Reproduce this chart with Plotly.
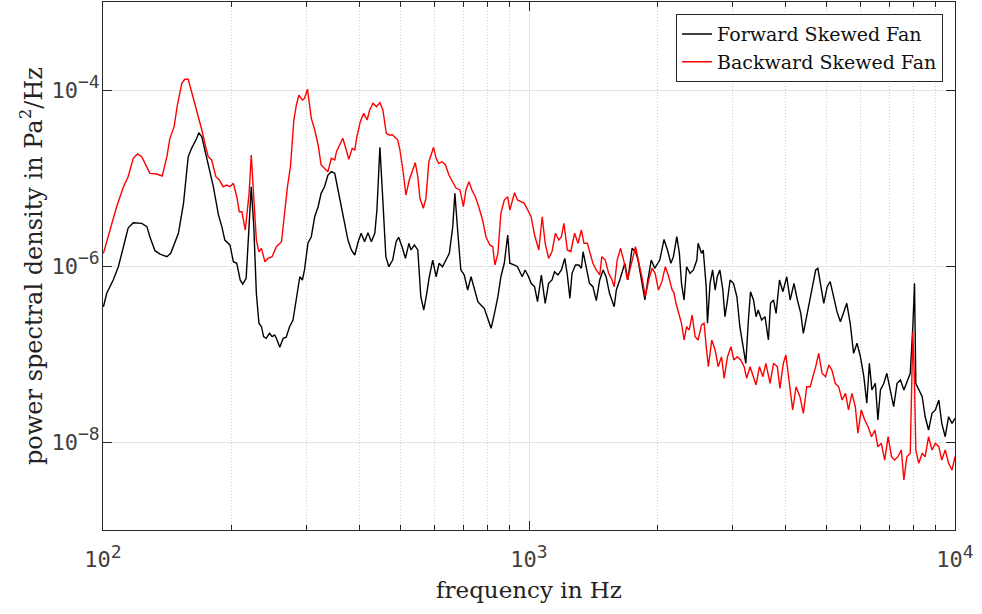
import numpy as np
import plotly.graph_objects as go

# ---- data (log10 of frequency in Hz, log10 of PSD in Pa^2/Hz) ----
fwd_log_f = [2.001, 2.009, 2.024, 2.036, 2.048, 2.059, 2.071, 2.091, 2.103, 2.110, 2.122, 2.134, 2.150, 2.159,
             2.177, 2.189, 2.200, 2.208, 2.220, 2.225, 2.232, 2.243, 2.259, 2.271, 2.279, 2.286, 2.298, 2.306,
             2.314, 2.322, 2.328, 2.336, 2.343, 2.348, 2.354, 2.360, 2.366, 2.372, 2.377, 2.383, 2.391, 2.397,
             2.403, 2.407, 2.415, 2.423, 2.430, 2.438, 2.446, 2.454, 2.462, 2.468, 2.473, 2.481, 2.489, 2.497,
             2.505, 2.512, 2.520, 2.528, 2.536, 2.544, 2.552, 2.559, 2.567, 2.575, 2.583, 2.591, 2.599, 2.606,
             2.614, 2.622, 2.630, 2.638, 2.643, 2.650, 2.656, 2.664, 2.671, 2.680, 2.688, 2.694, 2.702, 2.710,
             2.718, 2.723, 2.731, 2.739, 2.746, 2.753, 2.760, 2.766, 2.774, 2.782, 2.789, 2.797, 2.805, 2.813,
             2.821, 2.826, 2.833, 2.840, 2.848, 2.856, 2.864, 2.872, 2.880, 2.887, 2.895, 2.903, 2.911, 2.919,
             2.927, 2.934, 2.942, 2.950, 2.955, 2.966, 2.973, 2.984, 2.991, 2.999, 3.005, 3.013, 3.020, 3.029,
             3.038, 3.046, 3.054, 3.060, 3.068, 3.076, 3.084, 3.090, 3.096, 3.101, 3.109, 3.117, 3.123, 3.127,
             3.135, 3.142, 3.150, 3.158, 3.166, 3.174, 3.181, 3.189, 3.200, 3.205, 3.213, 3.225, 3.232, 3.242,
             3.250, 3.256, 3.264, 3.272, 3.279, 3.287, 3.295, 3.307, 3.317, 3.325, 3.333, 3.339, 3.347, 3.353,
             3.358, 3.364, 3.370, 3.378, 3.386, 3.394, 3.397, 3.405, 3.409, 3.416, 3.419, 3.425, 3.431, 3.437,
             3.442, 3.448, 3.455, 3.460, 3.466, 3.472, 3.480, 3.488, 3.495, 3.503, 3.509, 3.515, 3.520, 3.527,
             3.533, 3.538, 3.546, 3.554, 3.562, 3.567, 3.574, 3.580, 3.588, 3.596, 3.605, 3.613, 3.622, 3.630,
             3.638, 3.644, 3.652, 3.660, 3.673, 3.678, 3.684, 3.692, 3.700, 3.707, 3.715, 3.723, 3.731, 3.739,
             3.746, 3.754, 3.762, 3.770, 3.778, 3.786, 3.793, 3.799, 3.805, 3.813, 3.819, 3.825, 3.833, 3.840,
             3.848, 3.856, 3.864, 3.872, 3.880, 3.887, 3.895, 3.901, 3.905, 3.908, 3.915, 3.923, 3.930, 3.938,
             3.946, 3.954, 3.962, 3.969, 3.977, 3.985, 3.993, 4.000]
fwd_log_psd = [-6.463, -6.307, -6.159, -6.008, -5.781, -5.568, -5.508, -5.515, -5.553, -5.667, -5.826, -5.864,
               -5.894, -5.856, -5.628, -5.288, -4.758, -4.663, -4.549, -4.485, -4.531, -4.758, -5.099, -5.420,
               -5.553, -5.705, -5.761, -5.951, -5.969, -6.159, -6.205, -6.140, -5.553, -5.099, -5.553, -6.310,
               -6.651, -6.690, -6.803, -6.822, -6.765, -6.803, -6.784, -6.822, -6.924, -6.822, -6.810, -6.690,
               -6.614, -6.349, -6.122, -6.159, -6.045, -5.742, -5.667, -5.440, -5.326, -5.174, -5.099, -4.966,
               -4.928, -4.947, -5.136, -5.326, -5.477, -5.705, -5.818, -5.875, -5.724, -5.628, -5.724, -5.622,
               -5.724, -5.628, -5.364, -4.651, -5.174, -5.894, -6.008, -5.932, -5.724, -5.674, -5.781, -5.913,
               -5.742, -5.818, -5.761, -5.818, -6.349, -6.500, -6.310, -6.122, -5.932, -6.122, -5.969, -6.008,
               -5.932, -5.856, -5.553, -5.174, -5.628, -6.045, -6.102, -6.273, -6.122, -6.273, -6.406, -6.443,
               -6.481, -6.594, -6.708, -6.538, -6.349, -6.122, -5.969, -5.648, -5.969, -5.989, -6.008, -6.122,
               -6.045, -6.122, -6.197, -6.235, -6.406, -6.102, -6.424, -6.197, -6.159, -6.065, -6.102, -6.045,
               -5.913, -6.102, -6.367, -6.083, -5.989, -5.989, -6.026, -5.838, -6.045, -6.197, -6.235, -6.394,
               -6.159, -6.045, -6.122, -6.310, -6.463, -6.273, -6.159, -5.969, -6.159, -5.799, -5.838, -5.932,
               -6.159, -6.386, -6.159, -5.932, -6.026, -5.932, -5.697, -5.818, -5.969, -5.894, -5.667, -5.856,
               -6.197, -6.386, -6.008, -6.083, -6.045, -5.932, -5.742, -5.856, -5.818, -6.235, -6.651, -6.197,
               -6.045, -6.273, -6.122, -6.045, -6.273, -6.576, -6.386, -6.159, -6.197, -6.349, -6.690, -6.955,
               -7.106, -6.614, -6.292, -6.386, -6.576, -6.500, -6.614, -6.576, -6.841, -6.424, -6.386, -6.538,
               -6.159, -6.292, -6.122, -6.386, -6.197, -6.386, -6.538, -6.765, -6.576, -6.386, -6.045, -6.026,
               -6.197, -6.424, -6.235, -6.178, -6.349, -6.519, -6.633, -6.519, -6.424, -6.651, -6.992, -6.878,
               -7.031, -7.258, -7.560, -7.106, -7.409, -7.333, -7.750, -7.409, -7.333, -7.219, -7.409, -7.599,
               -7.333, -7.295, -7.409, -7.315, -7.219, -6.690, -6.197, -7.333, -7.409, -7.485, -7.713, -7.864,
               -7.674, -7.636, -7.523, -7.788, -7.940, -7.713, -7.788, -7.731]

bwd_log_f = [2.001, 2.016, 2.032, 2.048, 2.059, 2.071, 2.081, 2.091, 2.099, 2.110, 2.126, 2.139, 2.150, 2.157,
             2.167, 2.174, 2.185, 2.192, 2.200, 2.208, 2.220, 2.232, 2.242, 2.247, 2.255, 2.265, 2.273, 2.282,
             2.290, 2.298, 2.306, 2.314, 2.320, 2.326, 2.334, 2.343, 2.348, 2.354, 2.360, 2.366, 2.372, 2.380,
             2.387, 2.397, 2.407, 2.419, 2.427, 2.433, 2.440, 2.448, 2.454, 2.460, 2.468, 2.473, 2.480, 2.489,
             2.497, 2.505, 2.512, 2.520, 2.528, 2.536, 2.544, 2.548, 2.556, 2.563, 2.571, 2.577, 2.585, 2.591,
             2.596, 2.604, 2.612, 2.620, 2.626, 2.634, 2.642, 2.650, 2.657, 2.665, 2.672, 2.680, 2.692, 2.697,
             2.704, 2.711, 2.719, 2.727, 2.733, 2.739, 2.744, 2.752, 2.758, 2.765, 2.770, 2.776, 2.782, 2.788,
             2.796, 2.804, 2.812, 2.819, 2.829, 2.838, 2.846, 2.852, 2.859, 2.866, 2.874, 2.882, 2.891, 2.899,
             2.908, 2.915, 2.920, 2.927, 2.934, 2.942, 2.950, 2.955, 2.966, 2.973, 2.981, 2.989, 2.997, 3.005,
             3.013, 3.023, 3.031, 3.038, 3.046, 3.054, 3.062, 3.070, 3.076, 3.082, 3.090, 3.098, 3.107, 3.115,
             3.123, 3.129, 3.137, 3.142, 3.150, 3.158, 3.166, 3.171, 3.179, 3.187, 3.195, 3.200, 3.207, 3.215,
             3.223, 3.231, 3.240, 3.250, 3.258, 3.265, 3.273, 3.281, 3.289, 3.296, 3.304, 3.312, 3.320, 3.328,
             3.336, 3.340, 3.345, 3.353, 3.358, 3.364, 3.370, 3.376, 3.383, 3.390, 3.397, 3.405, 3.411, 3.416,
             3.421, 3.429, 3.437, 3.444, 3.452, 3.458, 3.466, 3.474, 3.481, 3.489, 3.497, 3.505, 3.511, 3.519,
             3.527, 3.533, 3.541, 3.549, 3.556, 3.566, 3.574, 3.583, 3.589, 3.597, 3.603, 3.611, 3.619, 3.627,
             3.636, 3.644, 3.652, 3.660, 3.667, 3.673, 3.680, 3.688, 3.696, 3.704, 3.711, 3.719, 3.727, 3.735,
             3.743, 3.750, 3.758, 3.766, 3.772, 3.780, 3.788, 3.796, 3.804, 3.812, 3.819, 3.827, 3.835, 3.843,
             3.851, 3.858, 3.866, 3.874, 3.880, 3.887, 3.895, 3.901, 3.905, 3.908, 3.915, 3.923, 3.930, 3.938,
             3.946, 3.954, 3.962, 3.969, 3.977, 3.985, 3.993, 4.000]
bwd_log_psd = [-5.856, -5.591, -5.326, -5.099, -4.985, -4.776, -4.727, -4.758, -4.833, -4.947, -4.955, -4.977,
               -4.758, -4.549, -4.417, -4.190, -3.924, -3.878, -3.878, -4.019, -4.227, -4.455, -4.663, -4.758,
               -4.795, -4.985, -5.023, -5.099, -5.080, -5.099, -5.060, -5.213, -5.383, -5.383, -5.591, -5.174,
               -4.739, -5.174, -5.705, -5.838, -5.799, -5.951, -5.913, -5.894, -5.781, -5.724, -5.364, -5.099,
               -4.872, -4.341, -4.170, -4.057, -4.114, -4.094, -3.992, -4.322, -4.455, -4.625, -4.852, -4.890,
               -4.928, -4.776, -4.795, -4.701, -4.625, -4.549, -4.682, -4.788, -4.663, -4.682, -4.531, -4.360,
               -4.265, -4.341, -4.227, -4.151, -4.190, -4.144, -4.227, -4.492, -4.511, -4.511, -4.568, -4.682,
               -4.909, -5.193, -5.023, -4.909, -4.826, -4.985, -5.231, -5.344, -5.231, -4.815, -4.739, -4.651,
               -4.776, -4.833, -4.815, -4.852, -4.966, -5.023, -5.117, -5.136, -5.326, -5.136, -5.042, -5.136,
               -5.213, -5.326, -5.477, -5.667, -5.761, -5.781, -5.989, -5.856, -5.401, -5.250, -5.213, -5.364,
               -5.167, -5.250, -5.269, -5.288, -5.364, -5.440, -5.648, -5.818, -5.440, -5.742, -5.913, -5.838,
               -5.628, -5.705, -5.667, -5.515, -5.818, -5.838, -5.628, -5.742, -5.591, -5.742, -5.742, -5.838,
               -5.969, -6.045, -6.102, -5.894, -5.932, -6.083, -6.159, -6.235, -5.932, -5.799, -5.951, -6.159,
               -5.969, -5.781, -5.969, -6.122, -6.349, -6.159, -6.026, -6.083, -6.273, -6.178, -6.008, -6.122,
               -6.273, -6.300, -6.424, -6.576, -6.651, -6.841, -6.690, -6.727, -6.557, -6.803, -6.841, -6.670,
               -6.651, -6.917, -7.144, -6.841, -6.955, -7.144, -7.031, -7.276, -7.031, -6.917, -7.068, -7.031,
               -7.068, -7.144, -7.276, -7.144, -7.258, -7.352, -7.144, -7.258, -7.106, -7.333, -7.106, -7.144,
               -7.390, -7.106, -7.011, -7.295, -7.636, -7.372, -7.485, -7.674, -7.372, -7.372, -7.258, -7.144,
               -6.992, -7.219, -7.258, -7.125, -7.182, -7.333, -7.372, -7.523, -7.447, -7.636, -7.447, -7.599,
               -7.901, -7.636, -7.750, -7.826, -7.940, -7.864, -8.053, -8.015, -8.205, -7.940, -8.167, -8.205,
               -8.167, -8.091, -8.432, -8.167, -8.128, -6.747, -7.333, -8.091, -8.242, -8.128, -8.167, -7.940,
               -8.091, -8.015, -8.053, -8.205, -8.091, -8.242, -8.318, -8.167]

series_names = ["Forward Skewed Fan", "Backward Skewed Fan"]
x_title = "frequency in Hz"
y_title = "power spectral density in Pa<sup>2</sup>/Hz"
x_tick_exp = [2, 3, 4]
y_tick_exp = [-8, -6, -4]

fwd_f = 10 ** np.array(fwd_log_f)
fwd_p = 10 ** np.array(fwd_log_psd)
bwd_f = 10 ** np.array(bwd_log_f)
bwd_p = 10 ** np.array(bwd_log_psd)


def pow_label(e):
    s = str(abs(e))
    sign = "\u2212" if e < 0 else ""
    return "10<sup><span style='font-size:18px'>" + sign + s + "</span></sup>"


SERIF = "DejaVu Serif, Liberation Serif, serif"
TICKFONT = dict(family="DejaVu Sans Mono, monospace", size=22, color="#404040")
AXCOL = "#262626"

fig = go.Figure()
fig.add_trace(go.Scatter(x=fwd_f, y=fwd_p, mode="lines", name=series_names[0],
                         line=dict(color="#000000", width=1.4)))
fig.add_trace(go.Scatter(x=bwd_f, y=bwd_p, mode="lines", name=series_names[1],
                         line=dict(color="#ff0000", width=1.4)))

fig.update_layout(
    width=982, height=614,
    margin=dict(l=103, r=27, t=2, b=84),
    paper_bgcolor="white", plot_bgcolor="white",
    showlegend=True,
    legend=dict(x=0.986, y=0.977, xanchor="right", yanchor="top",
                bgcolor="white", bordercolor=AXCOL, borderwidth=1,
                font=dict(family=SERIF, size=19, color="#111111"),
                tracegroupgap=0, itemwidth=30),
)

fig.update_xaxes(
    type="log", range=[2, 4],
    tickvals=[10.0 ** e for e in x_tick_exp], ticktext=[pow_label(e) for e in x_tick_exp],
    showline=True, linecolor=AXCOL, linewidth=1, mirror="allticks",
    ticks="inside", ticklen=9, tickcolor=AXCOL, tickwidth=1,
    tickfont=TICKFONT, ticklabelstandoff=10,
    showgrid=True, gridcolor="#e4e4e4", gridwidth=1,
    minor=dict(dtick="D1", ticks="inside", ticklen=5, tickcolor=AXCOL,
               showgrid=True, gridcolor="#cccccc", griddash="1px,2px", gridwidth=1),
    zeroline=False,
    title=dict(text=x_title, font=dict(family=SERIF, size=23, color="#222222"), standoff=10),
)
fig.update_yaxes(
    type="log", range=[-9, -3],
    tickvals=[10.0 ** e for e in y_tick_exp], ticktext=[pow_label(e) for e in y_tick_exp],
    showline=True, linecolor=AXCOL, linewidth=1, mirror="allticks",
    ticks="inside", ticklen=9, tickcolor=AXCOL, tickwidth=1,
    tickfont=TICKFONT, ticklabelstandoff=-2,
    showgrid=True, gridcolor="#e4e4e4", gridwidth=1,
    zeroline=False,
    title=dict(text=y_title, font=dict(family=SERIF, size=24, color="#222222"), standoff=2),
)

fig.write_html("out.html")
